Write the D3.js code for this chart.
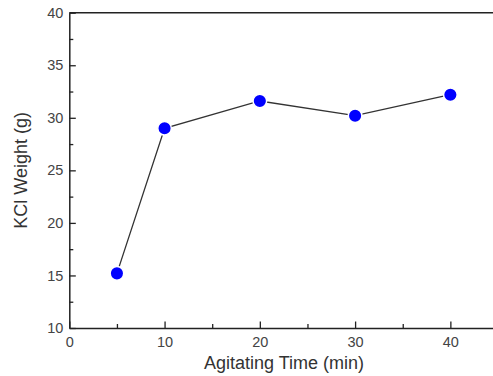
<!DOCTYPE html>
<html>
<head>
<meta charset="utf-8">
<script src="https://cdn.jsdelivr.net/npm/d3@7"></script>
<style>
  body { margin: 0; background: #fff; overflow: hidden; }
  svg { display: block; font-family: "Liberation Sans", Arial, sans-serif; }
</style>
</head>
<body>
<svg></svg>
<script>
// agitating time (min) vs KCl weight (g)
const times = [5, 10, 20, 30, 40];
const weights = [15.2, 29.0, 31.6, 30.2, 32.2];
const xTicks = [0, 10, 20, 30, 40];
const yTicks = [10, 15, 20, 25, 30, 35, 40];

const width = 493, height = 376;
const margin = { top: 12.7, right: -5, bottom: 48, left: 69.3 };
const chartWidth = width - margin.left - margin.right;
const chartHeight = height - margin.top - margin.bottom;

const svg = d3.select("svg").attr("width", width).attr("height", height);
const g = svg.append("g").attr("transform", "translate(" + margin.left + "," + margin.top + ")");

const x = d3.scaleLinear().domain([0, 45]).range([0, chartWidth]);
const y = d3.scaleLinear().domain([10, 40]).range([chartHeight, 0]);

// minor ticks first (no labels)
g.append("g")
  .attr("transform", "translate(0," + chartHeight + ")")
  .call(d3.axisBottom(x).tickValues(d3.range(5, 45, 10)).tickSizeInner(-4).tickSizeOuter(0).tickFormat(""))
  .call(s => s.select(".domain").remove());
g.append("g")
  .call(d3.axisLeft(y).tickValues(d3.range(12.5, 40, 5)).tickSizeInner(-4).tickSizeOuter(0).tickFormat(""))
  .call(s => s.select(".domain").remove());

// major axes
g.append("g")
  .attr("transform", "translate(0," + chartHeight + ")")
  .call(d3.axisBottom(x).tickValues(xTicks).tickSizeInner(-6.5).tickSizeOuter(0).tickPadding(8.5));
g.append("g")
  .call(d3.axisLeft(y).tickValues(yTicks).tickSizeInner(-6.5).tickSizeOuter(0).tickPadding(6));

// top frame line
g.append("line")
  .attr("x1", 0).attr("x2", chartWidth).attr("y1", 0).attr("y2", 0)
  .attr("stroke", "#222").attr("stroke-width", 1.5);

g.selectAll(".domain").attr("stroke", "#222").attr("stroke-width", 1.5);
g.selectAll(".tick line").attr("stroke", "#222").attr("stroke-width", 1.3);
g.selectAll(".tick text")
  .attr("fill", "#444")
  .style("font-size", "14.5px");

// line through the points
g.append("path")
  .datum(times.map((t, i) => [t, weights[i]]))
  .attr("fill", "none")
  .attr("stroke", "#333")
  .attr("stroke-width", 1.3)
  .attr("d", d3.line().x(d => x(d[0])).y(d => y(d[1])));

g.append("g").selectAll("circle")
  .data(times.map((t, i) => [t, weights[i]]))
  .join("circle")
  .attr("cx", d => x(d[0]))
  .attr("cy", d => y(d[1]))
  .attr("r", 6.8)
  .attr("fill", "#0000ff")
  .attr("stroke", "#fff")
  .attr("stroke-width", 1.5);

// axis titles
svg.append("text")
  .attr("x", 284)
  .attr("y", 369)
  .attr("text-anchor", "middle")
  .attr("fill", "#333")
  .style("font-size", "18px")
  .text("Agitating Time (min)");

svg.append("text")
  .attr("transform", "translate(27," + (margin.top + chartHeight / 2) + ") rotate(-90)")
  .attr("text-anchor", "middle")
  .attr("fill", "#333")
  .style("font-size", "18px")
  .text("KCl Weight (g)");
</script>
</body>
</html>
